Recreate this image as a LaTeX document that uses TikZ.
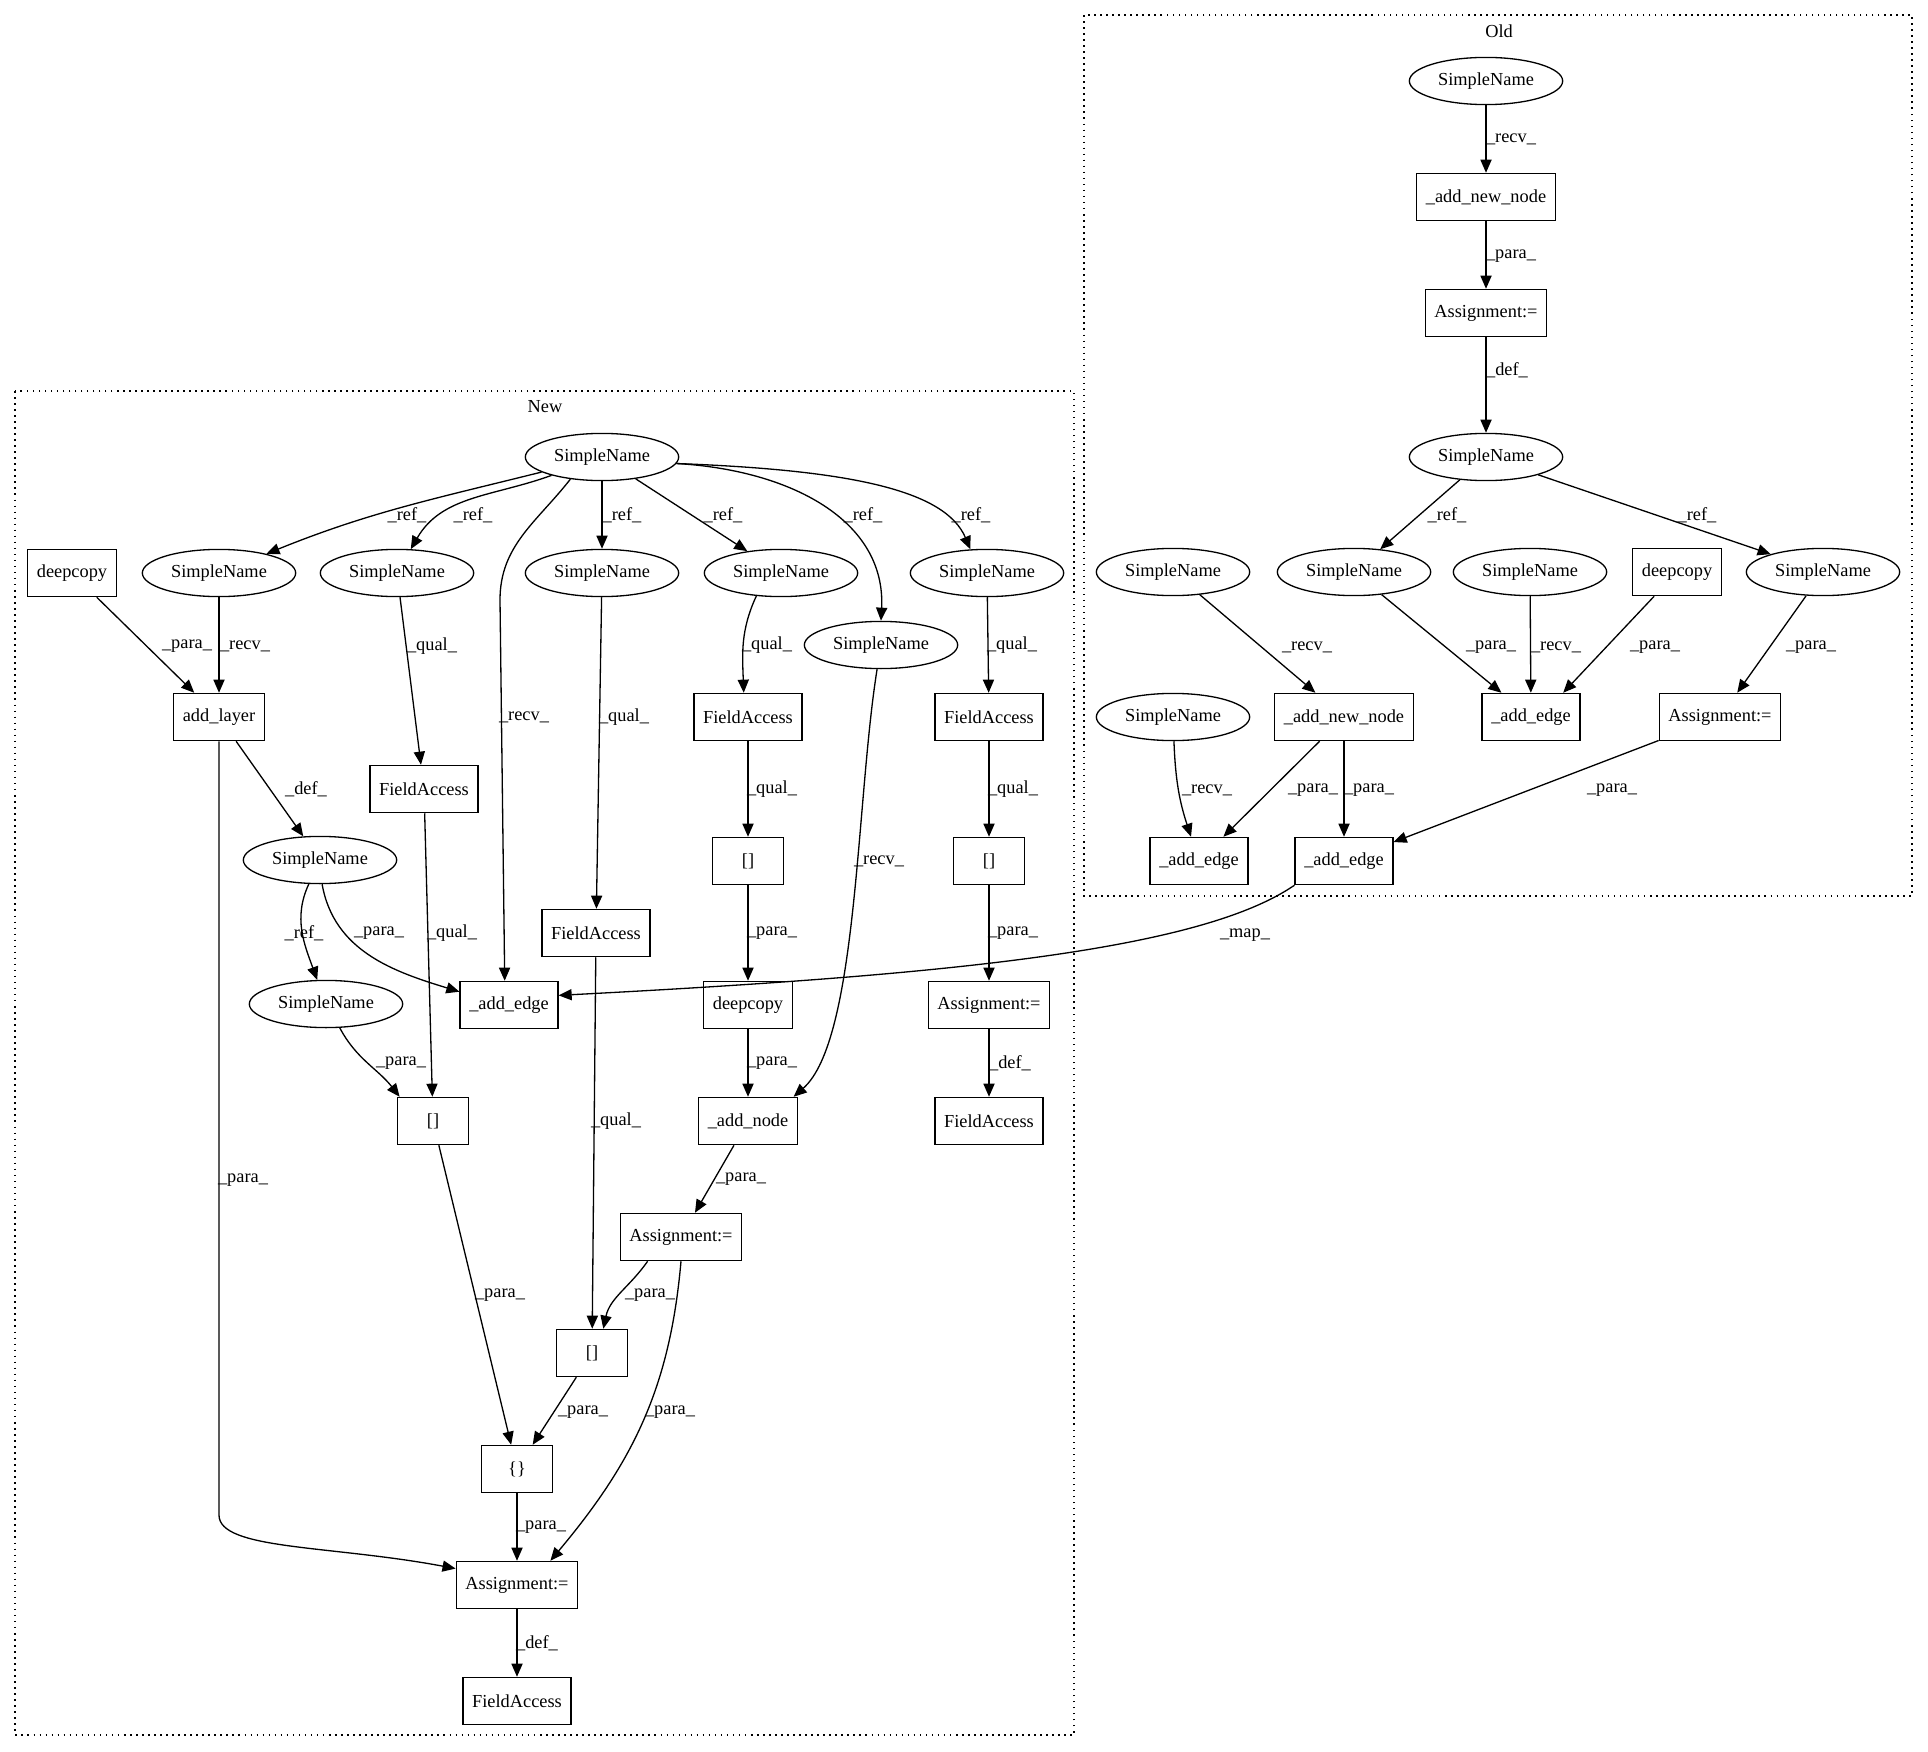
\documentclass[tikz,border=0pt]{standalone}
\usepackage{fontspec}
\setmainfont{Liberation Serif}
\usetikzlibrary{arrows.meta,shapes.geometric}

\begin{document}
\begin{tikzpicture}[x=0.763pt,y=-0.763pt,font=\fontsize{14}{16}\selectfont,
    box/.style={draw,line width=1pt,minimum width=54pt,minimum height=36pt,inner xsep=7pt},
    oval/.style={draw,ellipse,line width=1pt,minimum width=117pt,minimum height=36pt,inner sep=0pt},
    arr/.style={line width=1pt,-{Triangle[length=10pt,width=8.5pt]}},
    lab/.style={inner sep=0pt},
    grp/.style={line width=1pt,dash pattern=on 1.2pt off 3.4pt}]
        \useasboundingbox (0,0) rectangle (1928,1752);
        \draw[grp] (15,391) rectangle (1074,1735);
        \node (tnew) at (545,407) {New};
        \draw[grp] (1084,15) rectangle (1912,896);
        \node (told) at (1499,31) {Old};

        \node[oval] (s0) at (602,457) {SimpleName};
        \node[box] (dc1) at (72,573) {deepcopy};
        \node[oval] (s1) at (219,573) {SimpleName};
        \node[oval] (s2) at (397,573) {SimpleName};
        \node[oval] (s3) at (602,573) {SimpleName};
        \node[oval] (s4) at (781,573) {SimpleName};
        \node[oval] (s6) at (987,573) {SimpleName};
        \node[oval] (s5) at (881,645) {SimpleName};
        \node[box] (addl) at (219,717) {add\_layer};
        \node[box] (fa3) at (748,717) {FieldAccess};
        \node[box] (fa4) at (989,717) {FieldAccess};
        \node[box] (fa2) at (424,789) {FieldAccess};
        \node[oval] (sdef) at (320,860) {SimpleName};
        \node[box] (ix3) at (748,861) {[]};
        \node[box] (ix4) at (989,861) {[]};
        \node[box] (fa1) at (596,933) {FieldAccess};
        \node[oval] (sref) at (326,1004) {SimpleName};
        \node[box] (ae) at (509,1005) {\_add\_edge};
        \node[box] (dc2) at (748,1005) {deepcopy};
        \node[box] (asr) at (989,1005) {Assignment:=};
        \node[box] (ix1) at (433,1121) {[]};
        \node[box] (an) at (748,1121) {\_add\_node};
        \node[box] (far) at (989,1121) {FieldAccess};
        \node[box] (asm) at (681,1237) {Assignment:=};
        \node[box] (ix2) at (592,1353) {[]};
        \node[box] (br) at (517,1469) {\{\}};
        \node[box] (asb) at (517,1585) {Assignment:=};
        \node[box] (fab) at (517,1701) {FieldAccess};

        \node[oval] (o0) at (1486,81) {SimpleName};
        \node[box] (onn1) at (1486,197) {\_add\_new\_node};
        \node[box] (oas1) at (1486,313) {Assignment:=};
        \node[oval] (o1) at (1486,457) {SimpleName};
        \node[oval] (oa) at (1173,572) {SimpleName};
        \node[oval] (ob) at (1354,572) {SimpleName};
        \node[oval] (oc) at (1530,572) {SimpleName};
        \node[box] (odc) at (1677,572) {deepcopy};
        \node[oval] (od) at (1823,572) {SimpleName};
        \node[oval] (oe) at (1173,717) {SimpleName};
        \node[box] (onn2) at (1344,717) {\_add\_new\_node};
        \node[box] (oae1) at (1531,717) {\_add\_edge};
        \node[box] (oas2) at (1720,717) {Assignment:=};
        \node[box] (oae2) at (1199,861) {\_add\_edge};
        \node[box] (oae3) at (1344,861) {\_add\_edge};

        \coordinate (w1) at (500,600);
        \coordinate (w2) at (219,1515);

        \draw[arr] (s0) to[out=194,in=22] (s1) node[lab] at (407,515) {\_ref\_};
        \draw[arr] (s0) to[out=200,in=60] (s2) node[lab] at (473,515) {\_ref\_};
        \draw[arr] (s0.215) to[out=232,in=90] (w1) -- (ae.100) node[lab] at (524,717) {\_recv\_};
        \draw[arr] (s0) -- (s3) node[lab] at (622,515) {\_ref\_};
        \draw[arr] (s0) -- (s4) node[lab] at (723,515) {\_ref\_};
        \draw[arr] (s0.-5) .. controls (790,470) and (886,520) .. (s5.north) node[lab] at (863,515) {\_ref\_};
        \draw[arr] (s0.-5) .. controls (850,470) and (945,490) .. (s6.125) node[lab] at (971,515) {\_ref\_};
        \draw[arr] (dc1) -- (addl) node[lab] at (187,646) {\_para\_};
        \draw[arr] (s1) -- (addl) node[lab] at (245,646) {\_recv\_};
        \draw[arr] (s2) -- (fa2) node[lab] at (432,646) {\_qual\_};
        \draw[arr] (s3) -- (fa1) node[lab] at (624,717) {\_qual\_};
        \draw[arr] (s4.223) to[out=245,in=92] (fa3.100) node[lab] at (767,645) {\_qual\_};
        \draw[arr] (s6) -- (fa4) node[lab] at (1012,645) {\_qual\_};
        \draw[arr] (addl) -- (sdef) node[lab] at (306,789) {\_def\_};
        \draw[arr] (fa3) -- (ix3) node[lab] at (772,789) {\_qual\_};
        \draw[arr] (fa4) -- (ix4) node[lab] at (1013,789) {\_qual\_};
        \draw[arr] (addl) -- (w2) .. controls (219,1550) and (330,1545) .. (asb.165) node[lab] at (243,1180) {\_para\_};
        \draw[arr] (sdef.245) to[out=245,in=110] (sref) node[lab] at (304,933) {\_ref\_};
        \draw[arr] (sdef.-85) to[out=-80,in=163] (ae.165) node[lab] at (379,933) {\_para\_};
        \draw[arr] (fa2) -- (ix1) node[lab] at (452,933) {\_qual\_};
        \draw[arr] (ix3) -- (dc2) node[lab] at (772,933) {\_para\_};
        \draw[arr] (ix4) -- (asr) node[lab] at (1013,933) {\_para\_};
        \draw[arr] (s5) .. controls (856,800) and (858,1040) .. (an.28) node[lab] at (879,861) {\_recv\_};
        \draw[arr] (sref.-60) to[out=-62,in=128] (ix1.144) node[lab] at (401,1063) {\_para\_};
        \draw[arr] (dc2) -- (an) node[lab] at (772,1063) {\_para\_};
        \draw[arr] (asr) -- (far) node[lab] at (1010,1063) {\_def\_};
        \draw[arr] (fa1) -- (ix2) node[lab] at (616,1121) {\_qual\_};
        \draw[arr] (an) -- (asm) node[lab] at (741,1179) {\_para\_};
        \draw[arr] (ix1) -- (br) node[lab] at (500,1295) {\_para\_};
        \draw[arr] (asm.216) to[out=235,in=78] (ix2.65) node[lab] at (650,1295) {\_para\_};
        \draw[arr] (ix2) -- (br) node[lab] at (583,1412) {\_para\_};
        \draw[arr] (asm.south) to[out=-95,in=50] (asb.36) node[lab] at (670,1412) {\_para\_};
        \draw[arr] (br) -- (asb) node[lab] at (541,1527) {\_para\_};
        \draw[arr] (asb) -- (fab) node[lab] at (537,1643) {\_def\_};

        \draw[arr] (o0) -- (onn1) node[lab] at (1511,139) {\_recv\_};
        \draw[arr] (onn1) -- (oas1) node[lab] at (1511,256) {\_para\_};
        \draw[arr] (oas1) -- (o1) node[lab] at (1507,370) {\_def\_};
        \draw[arr] (o1) -- (ob) node[lab] at (1447,515) {\_ref\_};
        \draw[arr] (o1) -- (od) node[lab] at (1697,515) {\_ref\_};
        \draw[arr] (oa) -- (onn2) node[lab] at (1307,647) {\_recv\_};
        \draw[arr] (ob) -- (oae1) node[lab] at (1491,647) {\_para\_};
        \draw[arr] (oc) -- (oae1) node[lab] at (1556,647) {\_recv\_};
        \draw[arr] (odc) -- (oae1.37) node[lab] at (1655,647) {\_para\_};
        \draw[arr] (od) -- (oas2) node[lab] at (1811,647) {\_para\_};
        \draw[arr] (oe) to[bend right=8] (oae2) node[lab] at (1207,790) {\_recv\_};
        \draw[arr] (onn2) -- (oae2) node[lab] at (1313,790) {\_para\_};
        \draw[arr] (onn2) -- (oae3) node[lab] at (1369,790) {\_para\_};
        \draw[arr] (oas2) -- (oae3) node[lab] at (1612,790) {\_para\_};
        \draw[arr] (oae3.south west) .. controls (1200,950) and (950,975) .. (ae.11) node[lab] at (1245,935) {\_map\_};
      \end{tikzpicture}
\end{document}
